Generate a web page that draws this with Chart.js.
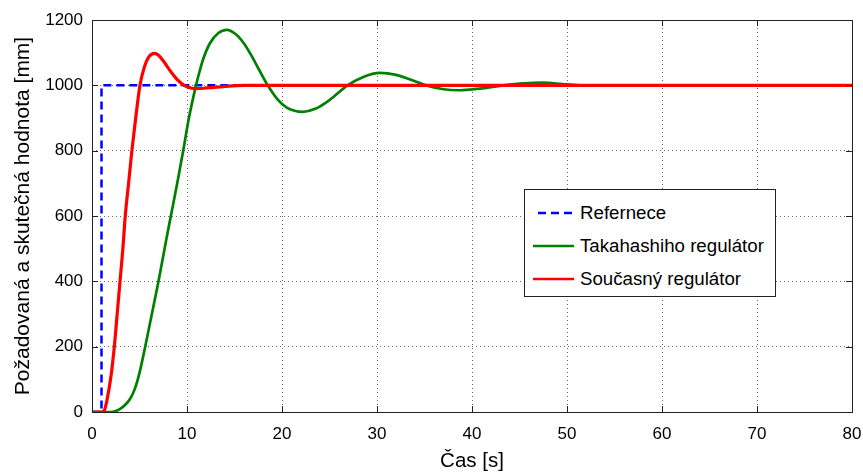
<!DOCTYPE html>
<html>
<head>
<meta charset="utf-8">
<script src="https://cdn.jsdelivr.net/npm/chart.js@4"></script>
<style>
  body { margin: 0; background: #fff; }
  #wrap { position: relative; width: 863px; height: 475px; }
  #legend {
    position: absolute; left: 524px; top: 189px; width: 252px; height: 108px;
    border: 1px solid #222; background: #fff; box-sizing: border-box;
    font-family: "Liberation Sans", Arial, sans-serif; font-size: 18.7px; color: #000;
  }
  .row { position: absolute; left: 0; height: 22px; line-height: 22px; white-space: nowrap; }
  .row svg { position: absolute; left: 7px; top: 0; }
  .row span { position: absolute; left: 55px; top: 0; }
</style>
</head>
<body>
<div id="wrap">
  <canvas id="myChart" width="863" height="475"></canvas>
  <div id="legend">
    <div class="row" style="top:12px"><svg width="44" height="22"><line x1="6" y1="11" x2="42" y2="11" stroke="rgb(0,0,255)" stroke-width="2.5" stroke-dasharray="8,5"/></svg><span>Refernece</span></div>
    <div class="row" style="top:45px"><svg width="44" height="22"><line x1="1" y1="11" x2="42" y2="11" stroke="rgb(0,128,0)" stroke-width="2.5"/></svg><span>Takahashiho regulátor</span></div>
    <div class="row" style="top:78px"><svg width="44" height="22"><line x1="1" y1="11" x2="42" y2="11" stroke="rgb(255,0,0)" stroke-width="2.5"/></svg><span>Současný regulátor</span></div>
  </div>
</div>
<script>
const xTicks = [0, 10, 20, 30, 40, 50, 60, 70, 80];
const yTicks = [0, 200, 400, 600, 800, 1000, 1200];

const refTime = [0, 1, 1, 80];
const refValues = [0, 0, 1000, 1000];

const takaTime = [0, 2, 2.5, 3, 3.5, 4, 4.5, 5, 5.6, 6.3, 7, 7.8, 8.3, 9, 9.6, 10.2, 10.95, 11.3, 11.7, 12.4, 13.3, 14.2, 15.2, 16, 16.8, 17.6, 18.5, 19.5, 20.5, 22.2, 23.5, 25, 26.9, 28.5, 30.3, 32, 33.5, 35.2, 37, 38.7, 40.5, 43.3, 45.5, 47.5, 49.5, 51, 53, 80];
const takaValues = [0, 0, 3, 10, 22, 40, 70, 120, 200, 300, 400, 525, 600, 705, 800, 900, 1000, 1040, 1080, 1128, 1160, 1170, 1155, 1128, 1090, 1047, 1000, 958, 932, 919, 928, 955, 1000, 1025, 1038, 1032, 1018, 1000, 988, 985, 989, 1000, 1006, 1008, 1004, 1001, 1000, 1000];

const soucTime = [0, 1, 1.3, 1.6, 2, 2.35, 2.65, 2.95, 3.25, 3.5, 3.85, 4.2, 4.6, 5.05, 5.5, 6, 6.6, 7, 7.5, 8, 8.5, 9, 9.8, 10.4, 11, 11.8, 12.8, 14, 16, 80];
const soucValues = [0, 0, 5, 40, 110, 200, 300, 400, 500, 600, 700, 800, 900, 1000, 1055, 1088, 1098, 1092, 1075, 1054, 1034, 1017, 998, 992, 990, 991, 994, 997, 1000, 1000];

const pts = (t, v) => t.map((x, i) => ({ x: x, y: v[i] }));

const frame = {
  id: 'frame',
  afterDraw(chart) {
    const ctx = chart.ctx, a = chart.chartArea;
    const xs = chart.scales.x, ys = chart.scales.y;
    ctx.save();
    ctx.strokeStyle = '#222';
    ctx.lineWidth = 1;
    ctx.beginPath();
    xTicks.forEach(v => {
      const px = Math.round(xs.getPixelForValue(v)) + 0.5;
      ctx.moveTo(px, a.bottom); ctx.lineTo(px, a.bottom - 6);
      ctx.moveTo(px, a.top); ctx.lineTo(px, a.top + 6);
    });
    yTicks.forEach(v => {
      const py = Math.round(ys.getPixelForValue(v)) + 0.5;
      ctx.moveTo(a.left, py); ctx.lineTo(a.left + 6, py);
      ctx.moveTo(a.right, py); ctx.lineTo(a.right - 6, py);
    });
    ctx.stroke();
    ctx.strokeRect(Math.round(a.left) + 0.5, Math.round(a.top) + 0.5, Math.round(a.right - a.left), Math.round(a.bottom - a.top));
    ctx.restore();
  }
};

const font = { family: '"Liberation Sans", Arial, sans-serif', size: 17 };
const gridOpts = { color: 'rgba(0,0,0,0.6)', lineWidth: 1, drawTicks: false };

new Chart(document.getElementById('myChart'), {
  type: 'line',
  data: {
    datasets: [
      { label: 'Refernece', data: pts(refTime, refValues), borderColor: 'rgb(0,0,255)', borderWidth: 2.5, borderDash: [8, 5], tension: 0, order: 3 },
      { label: 'Takahashiho regulátor', data: pts(takaTime, takaValues), borderColor: 'rgb(0,128,0)', borderWidth: 2.7, cubicInterpolationMode: 'monotone', order: 2 },
      { label: 'Současný regulátor', data: pts(soucTime, soucValues), borderColor: 'rgb(255,0,0)', borderWidth: 3.2, cubicInterpolationMode: 'monotone', order: 1 }
    ]
  },
  options: {
    responsive: false,
    animation: false,
    elements: { point: { radius: 0 } },
    layout: { padding: { left: 0, top: 20, right: 11, bottom: 0 } },
    plugins: { legend: { display: false }, tooltip: { enabled: false } },
    scales: {
      x: {
        type: 'linear', min: 0, max: 80,
        afterFit: s => { s.height = 63; s.paddingRight = 0; s.paddingLeft = 0; },
        ticks: { stepSize: 10, padding: 12, color: '#000', font: font, maxRotation: 0, callback: v => String(v) },
        grid: gridOpts,
        border: { display: false, dash: [1, 3] },
        title: { display: true, text: 'Čas [s]', color: '#000', font: { family: font.family, size: 20.5 }, padding: { top: 0, bottom: 1 } }
      },
      y: {
        min: 0, max: 1200,
        afterFit: s => { s.width = 92; },
        ticks: { stepSize: 200, padding: 9, color: '#000', font: font, callback: v => String(v) },
        grid: gridOpts,
        border: { display: false, dash: [1, 3] },
        title: { display: true, text: 'Požadovaná a skutečná hodnota [mm]', color: '#000', font: { family: font.family, size: 21 }, padding: { top: 11, bottom: 0 } }
      }
    }
  },
  plugins: [frame]
});
</script>
</body>
</html>
